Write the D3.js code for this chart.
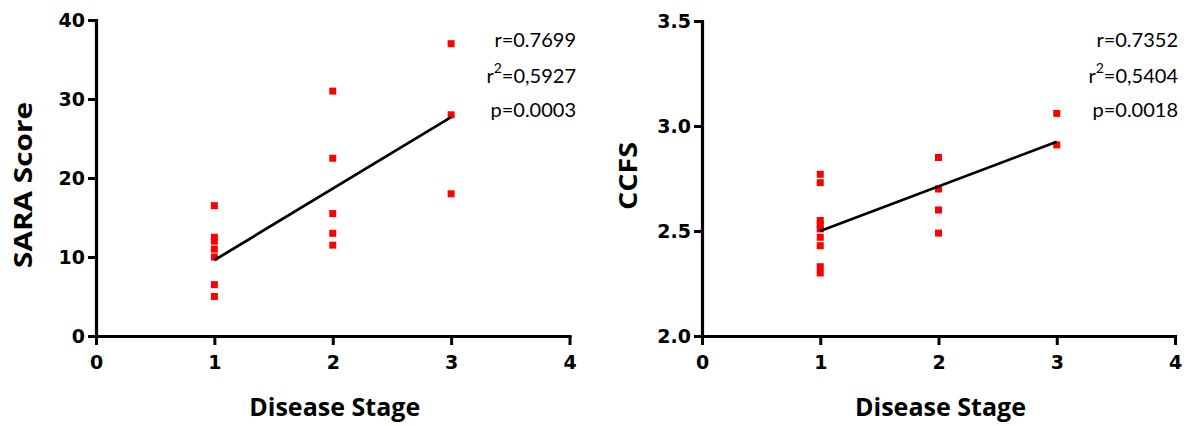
<!DOCTYPE html>
<html>
<head>
<meta charset="utf-8">
<script src="https://cdn.jsdelivr.net/npm/d3@7"></script>
<style>
  body { margin: 0; background: #fff; }
  svg { display: block; }
</style>
</head>
<body>
<svg id="chart" width="1193" height="426"></svg>
<script>
// disease stage (x) for each point
const saraStage = [1, 1, 1, 1, 1, 1, 1, 2, 2, 2, 2, 2, 3, 3, 3];
const saraScore = [16.5, 12.5, 12, 11, 10, 6.5, 5, 31, 22.5, 15.5, 13, 11.5, 37, 28, 18];
const saraFitX = [1, 3];
const saraFitY = [9.6, 27.7];
const saraTicks = [0, 10, 20, 30, 40];
const saraStats = ["r=0.7699", "0,5927", "p=0.0003"];

const ccfsStage = [1, 1, 1, 1, 1, 1, 1, 1, 1, 2, 2, 2, 2, 3, 3];
const ccfsScore = [2.77, 2.73, 2.55, 2.53, 2.51, 2.47, 2.43, 2.33, 2.30, 2.85, 2.70, 2.60, 2.49, 3.06, 2.91];
const ccfsFitX = [1, 3];
const ccfsFitY = [2.50, 2.925];
const ccfsTicks = [2.0, 2.5, 3.0, 3.5];
const ccfsStats = ["r=0.7352", "0,5404", "p=0.0018"];

const stageTicks = [0, 1, 2, 3, 4];

const svg = d3.select("#chart");

function drawPanel(opts) {
  const g = svg.append("g");
  const x = d3.scaleLinear().domain([0, 4]).range([opts.left, opts.right]);
  const y = d3.scaleLinear().domain(opts.yDomain).range([opts.bottom, opts.top]);

  // axes
  const xAxis = d3.axisBottom(x).tickValues(stageTicks).tickFormat(d3.format("d"))
    .tickSizeInner(9).tickSizeOuter(0).tickPadding(11);
  const yAxis = d3.axisLeft(y).tickValues(opts.yTicks).tickFormat(opts.yFormat)
    .tickSizeInner(8).tickSizeOuter(0).tickPadding(3);

  const gx = g.append("g").attr("transform", `translate(0,${opts.bottom})`).call(xAxis);
  const gy = g.append("g").attr("transform", `translate(${opts.left},0)`).call(yAxis);

  [gx, gy].forEach((a) => {
    a.select(".domain").attr("stroke", "#000").attr("stroke-width", 3.2).attr("stroke-linecap", "square");
    a.selectAll(".tick line").attr("stroke", "#000").attr("stroke-width", 3);
    a.selectAll(".tick text")
      .attr("fill", "#000")
      .style("font-family", "'DejaVu Sans', sans-serif")
      .style("font-weight", "bold")
      .style("font-size", "19px");
  });

  // points
  g.selectAll("rect.pt")
    .data(opts.stage.map((s, i) => ({ s: s, v: opts.values[i] })))
    .join("rect")
    .attr("class", "pt")
    .attr("x", (d) => x(d.s) - 3.5)
    .attr("y", (d) => y(d.v) - 3.5)
    .attr("width", 7)
    .attr("height", 7)
    .attr("fill", "#ff0000");

  // regression line
  const line = d3.line().x((d) => x(d[0])).y((d) => y(d[1]));
  g.append("path")
    .attr("d", line(opts.fitX.map((v, i) => [v, opts.fitY[i]])))
    .attr("fill", "none")
    .attr("stroke", "#000")
    .attr("stroke-width", 2.8);

  // axis titles
  g.append("text")
    .attr("x", (opts.left + opts.right) / 2 + 2)
    .attr("y", 416)
    .attr("text-anchor", "middle")
    .attr("textLength", 171)
    .attr("lengthAdjust", "spacingAndGlyphs")
    .style("font-family", "'Open Sans', sans-serif")
    .style("font-weight", "bold")
    .style("font-size", "25px")
    .text("Disease Stage");

  g.append("text")
    .attr("transform", `translate(${opts.yTitleX},${opts.yTitleY}) rotate(-90)`)
    .attr("text-anchor", "middle")
    .attr("textLength", opts.yTitleLen)
    .attr("lengthAdjust", "spacingAndGlyphs")
    .style("font-family", "'Open Sans', sans-serif")
    .style("font-weight", "bold")
    .style("font-size", "25px")
    .text(opts.yTitle);

  // stats annotation
  const st = g.append("g")
    .style("font-family", "Lato, sans-serif")
    .style("font-size", "20px")
    .attr("fill", "#000")
    .attr("text-anchor", "end");
  st.append("text").attr("x", opts.statX).attr("y", 47).text(opts.stats[0]);
  const r2 = st.append("text").attr("x", opts.statX).attr("y", 83);
  r2.append("tspan").text("r");
  r2.append("tspan").attr("dy", -10).style("font-size", "14px").text("2");
  r2.append("tspan").attr("dy", 10).text("=" + opts.stats[1]);
  st.append("text").attr("x", opts.statX).attr("y", 117).text(opts.stats[2]);
}

drawPanel({
  left: 96, right: 569.5, top: 20, bottom: 336,
  yDomain: [0, 40], yTicks: saraTicks, yFormat: d3.format("d"),
  stage: saraStage, values: saraScore, fitX: saraFitX, fitY: saraFitY,
  yTitle: "SARA Score", yTitleX: 32, yTitleY: 185, yTitleLen: 166,
  stats: saraStats, statX: 576
});

drawPanel({
  left: 702, right: 1175, top: 21, bottom: 336,
  yDomain: [2.0, 3.5], yTicks: ccfsTicks, yFormat: d3.format(".1f"),
  stage: ccfsStage, values: ccfsScore, fitX: ccfsFitX, fitY: ccfsFitY,
  yTitle: "CCFS", yTitleX: 637, yTitleY: 176, yTitleLen: 68,
  stats: ccfsStats, statX: 1178
});
</script>
</body>
</html>
